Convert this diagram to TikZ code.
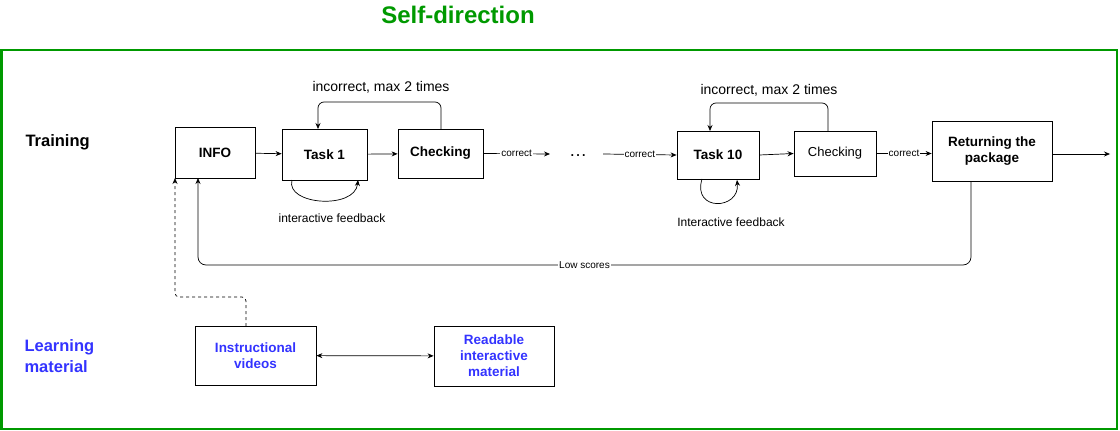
\documentclass[tikz,border=0pt]{standalone}
\usepackage{fontspec}
\setmainfont{Liberation Sans}
\usetikzlibrary{arrows.meta}
\definecolor{gr}{RGB}{0,153,0}
\definecolor{bl}{RGB}{51,51,255}
\begin{document}
\begin{tikzpicture}[x=1pt,y=-1pt,
  box/.style={draw,line width=0.8pt,align=center,inner sep=0pt},
  arr/.style={-{Stealth[length=6pt,width=5pt]},line width=0.7pt},
  lbl/.style={font=\fontsize{10}{11}\selectfont,fill=white,inner sep=1pt},
  big/.style={font=\fontsize{13.5}{16}\selectfont\bfseries}]
\useasboundingbox (0,0) rectangle (1120,431);
\node[text=gr,font=\fontsize{24}{26}\selectfont\bfseries] (title) at (458,15) {Self-direction};
\draw[gr,line width=2.5pt] (1.5,50) rectangle (1117,429);
\node[font=\fontsize{16.5}{18}\selectfont\bfseries,anchor=west] (tr) at (22,142) {Training};
\node[text=bl,font=\fontsize{16.5}{21}\selectfont\bfseries,align=left,anchor=west] (lm) at (21,356) {Learning\\material};
\node[box,big,minimum width=80pt,minimum height=51pt] (info) at (215,152.5) {INFO};
\node[box,big,minimum width=85pt,minimum height=51pt] (t1) at (324.5,154.5) {Task 1};
\node[box,big,minimum width=85pt,minimum height=49pt] (c1) at (440.5,153.5) {Checking};
\node[font=\fontsize{18}{18}\selectfont] (dots) at (578,156) {\dots};
\coordinate (e1) at (550,154);
\coordinate (s2) at (603,154);
\node[box,big,minimum width=82pt,minimum height=48pt] (t10) at (718,155) {Task 10};
\node[box,font=\fontsize{13}{15}\selectfont,minimum width=82pt,minimum height=45pt] (c2) at (835,153.5) {Checking};
\node[box,big,minimum width=120pt,minimum height=60pt] (ret) at (992,151) {Returning the\\package};
\coordinate (out) at (1110,154);
\node[box,text=bl,big,minimum width=121pt,minimum height=59pt] (iv) at (255.5,355.5) {Instructional\\videos};
\node[box,text=bl,big,minimum width=120pt,minimum height=60pt] (rm) at (494,356) {Readable\\interactive\\material};
\draw[arr] (info) -- (t1);
\draw[arr] (t1) -- (c1);
\draw[arr] (c1.east) -- node[lbl]{correct} (e1);
\draw[arr] (s2) -- node[lbl]{correct} (t10.west);
\draw[arr] (t10.east) -- (c2.west);
\draw[arr] (c2.east) -- node[lbl]{correct} (ret.west|-c2.east);
\draw[arr] (ret.east|-out) -- (out);
\draw[arr,rounded corners=6pt] (441,129) -- (441,102) -- (318,102) -- (318,129);
\node[font=\fontsize{14}{16}\selectfont] (l1) at (381,87) {incorrect, max 2 times};
\draw[arr,rounded corners=6pt] (828,131) -- (828,103) -- (710,103) -- (710,131);
\node[font=\fontsize{14}{16}\selectfont] (l2) at (769,90) {incorrect, max 2 times};
\draw[arr] (292,180) .. controls (285,205) and (355,210) .. (358,180);
\node[font=\fontsize{12}{14}\selectfont] (f1) at (332,218) {interactive feedback};
\draw[arr] (702,179) .. controls (692,212) and (740,210) .. (737,180);
\node[font=\fontsize{12}{14}\selectfont] (f2) at (731,222) {Interactive feedback};
\draw[arr,rounded corners=8pt] (971,181) -- (971,265) -- node[lbl]{Low scores} (198,265) -- (198,178);
\draw[arr,dashed,rounded corners=4pt] (246,326) -- (246,297) -- (175,297) -- (175,178);
\draw[{Stealth[length=6pt,width=5pt]}-{Stealth[length=6pt,width=5pt]},line width=0.7pt] (iv) -- (rm);
\end{tikzpicture}
\end{document}
